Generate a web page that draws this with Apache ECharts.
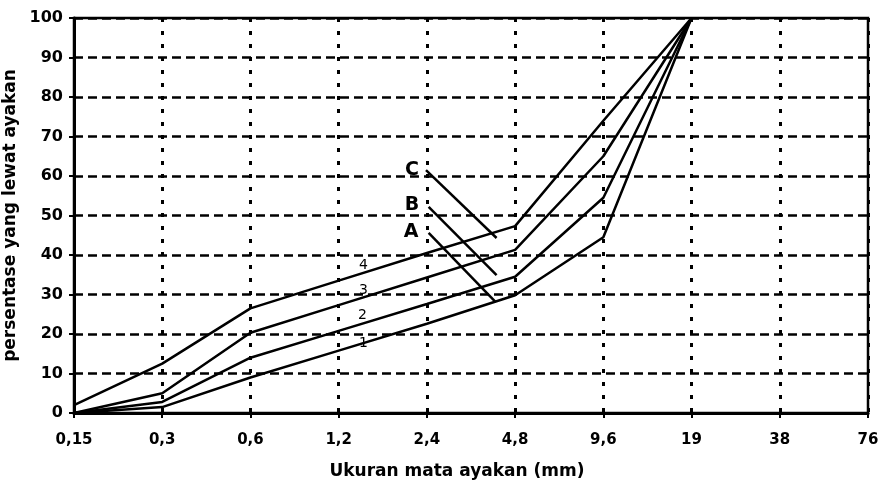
<!DOCTYPE html>
<html>
<head>
<meta charset="utf-8">
<script src="https://cdn.jsdelivr.net/npm/echarts@6/dist/echarts.min.js"></script>
<style>
  html, body { margin: 0; padding: 0; background: #fff; }
  #main { width: 880px; height: 489px; }
</style>
</head>
<body>
<div id="main"></div>
<script>
// ukuran ayakan (mm) -> tick labels
var sizes = ['0,15', '0,3', '0,6', '1,2', '2,4', '4,8', '9,6', '19', '38', '76']
// persen lolos, curves 1..4
var curve1 = [0, 1.5, 9, 15.8, 22.6, 29.8, 44.5, 100]
var curve2 = [0, 2.8, 14, 20.8, 27.6, 34.5, 54.5, 100]
var curve3 = [0, 5, 20.3, 27.3, 34.3, 41.3, 65, 100]
var curve4 = [2, 12.5, 26.5, 33.5, 40.5, 47.3, 74, 100]
var yTicks = [0, 10, 20, 30, 40, 50, 60, 70, 80, 90, 100]

// annotations (index on x, percent on y)
var tagNames = ['C', 'B', 'A']
var tagX = [3.83, 3.83, 3.82]
var tagY = [61.5, 52.7, 45.8]
var leadFrom = [[3.99, 61.5], [4.02, 52.2], [4.02, 45.6]]
var leadTo = [[4.79, 44.3], [4.79, 34.9], [4.78, 28.1]]
var numNames = ['4', '3', '2', '1']
var numX = [3.28, 3.28, 3.27, 3.28]
var numY = [37.5, 31.1, 24.6, 17.6]

var myChart = echarts.init(document.getElementById('main'))

function pairs (arr) {
  return arr.map(function (v, i) { return [i, v] })
}

var lineStyle = { color: '#000', width: 2.5 }

const option = {
  backgroundColor: '#fff',
  animation: false,
  grid: {
    left: 74,
    right: 12,
    top: 18,
    bottom: 76,
    containLabel: false,
    outerBoundsMode: 'none',
    show: true,
    borderColor: '#000',
    borderWidth: 2.5
  },
  xAxis: {
    type: 'value',
    min: 0,
    max: sizes.length - 1,
    interval: 1,
    name: 'Ukuran mata ayakan (mm)',
    nameLocation: 'middle',
    nameGap: 50,
    nameTextStyle: {
      color: '#000',
      fontFamily: 'DejaVu Sans',
      fontWeight: 'bold',
      fontSize: 17,
      padding: [0, 28, 0, 0]
    },
    axisLine: { lineStyle: { color: '#000', width: 3 } },
    axisTick: { show: true, length: 5, lineStyle: { color: '#000', width: 2 } },
    axisLabel: {
      color: '#000',
      fontFamily: 'DejaVu Sans',
      fontWeight: 'bold',
      fontSize: 15,
      margin: 20,
      formatter: function (v) { return sizes[v] }
    },
    splitLine: {
      show: true,
      lineStyle: { color: '#000', width: 3, type: [4, 9] }
    }
  },
  yAxis: {
    type: 'value',
    min: 0,
    max: 100,
    interval: 10,
    name: 'persentase yang lewat ayakan',
    nameLocation: 'middle',
    nameGap: 46,
    nameTextStyle: {
      color: '#000',
      fontFamily: 'DejaVu Sans',
      fontWeight: 'bold',
      fontSize: 17
    },
    axisLine: { show: true, lineStyle: { color: '#000', width: 3 } },
    axisTick: { show: true, length: 5, lineStyle: { color: '#000', width: 2 } },
    axisLabel: {
      color: '#000',
      fontFamily: 'DejaVu Sans',
      fontWeight: 'bold',
      fontSize: 16,
      margin: 11,
      formatter: function (v) { return yTicks.indexOf(v) >= 0 ? String(v) : '' }
    },
    splitLine: {
      show: true,
      lineStyle: { color: '#000', width: 2.5, type: [9, 5] }
    }
  },
  series: [
    { name: '1', type: 'line', data: pairs(curve1), showSymbol: false, symbol: 'none', lineStyle: lineStyle, z: 3 },
    { name: '2', type: 'line', data: pairs(curve2), showSymbol: false, symbol: 'none', lineStyle: lineStyle, z: 3 },
    { name: '3', type: 'line', data: pairs(curve3), showSymbol: false, symbol: 'none', lineStyle: lineStyle, z: 3 },
    {
      name: '4',
      type: 'line',
      data: pairs(curve4),
      showSymbol: false,
      symbol: 'none',
      lineStyle: lineStyle,
      z: 3,
      markLine: {
        silent: true,
        symbol: ['none', 'none'],
        label: { show: false },
        lineStyle: { color: '#000', width: 2.5, type: 'solid' },
        data: leadFrom.map(function (p, i) {
          return [{ coord: p }, { coord: leadTo[i] }]
        })
      }
    },
    {
      name: 'tags',
      type: 'scatter',
      symbolSize: 0,
      z: 4,
      itemStyle: { opacity: 1, color: '#000' },
      data: tagNames.map(function (n, i) { return { name: n, value: [tagX[i], tagY[i]] } }),
      label: {
        show: true,
        position: 'inside',
        formatter: '{b}',
        color: '#000',
        fontFamily: 'DejaVu Sans',
        fontWeight: 'bold',
        fontSize: 19
      }
    },
    {
      name: 'nums',
      type: 'scatter',
      symbolSize: 0,
      z: 4,
      itemStyle: { opacity: 1, color: '#000' },
      data: numNames.map(function (n, i) { return { name: n, value: [numX[i], numY[i]] } }),
      label: {
        show: true,
        position: 'inside',
        formatter: '{b}',
        color: '#000',
        fontFamily: 'DejaVu Sans',
        fontSize: 14
      }
    }
  ]
}
myChart.setOption(option)
</script>
</body>
</html>
